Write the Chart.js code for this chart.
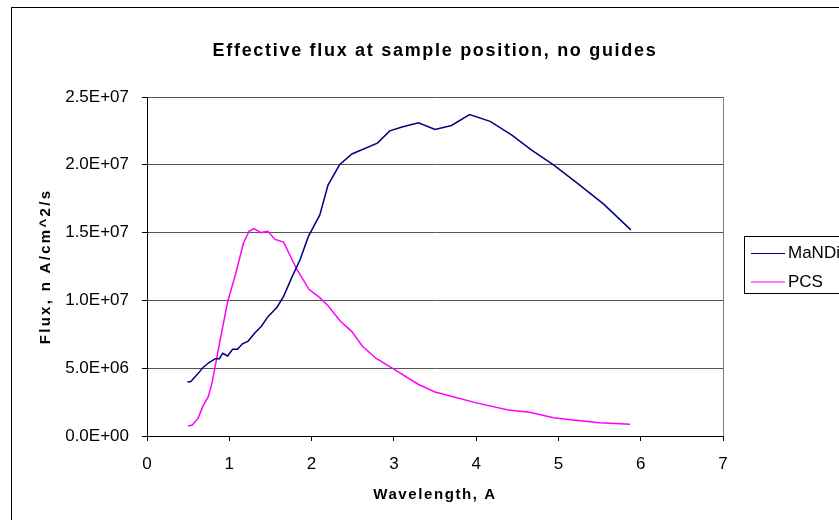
<!DOCTYPE html>
<html>
<head>
<meta charset="utf-8">
<title>Effective flux at sample position</title>
<script src="https://cdn.jsdelivr.net/npm/chart.js@4.4.1/dist/chart.umd.min.js"></script>
<style>
  html, body { margin: 0; padding: 0; background: #fff; }
  canvas { display: block; }
</style>
</head>
<body>
<canvas id="fluxChart" width="839" height="520"></canvas>
<script>
// wavelength in A, flux in n A/cm^2/s
const mandiWavelength = [0.49, 0.53, 0.62, 0.68, 0.75, 0.83, 0.88, 0.92, 0.98, 1.04, 1.10, 1.16, 1.23, 1.31, 1.39, 1.47, 1.58, 1.66, 1.76, 1.86, 1.96, 2.10, 2.20, 2.34, 2.49, 2.80, 2.95, 3.11, 3.30, 3.50, 3.70, 3.92, 4.17, 4.43, 4.67, 4.94, 5.24, 5.55, 5.88];
const mandiFlux = [4.0e6, 4.0e6, 4.6e6, 5.05e6, 5.4e6, 5.7e6, 5.7e6, 6.1e6, 5.9e6, 6.4e6, 6.4e6, 6.8e6, 7.0e6, 7.6e6, 8.1e6, 8.8e6, 9.5e6, 1.03e7, 1.17e7, 1.30e7, 1.47e7, 1.63e7, 1.85e7, 2.00e7, 2.08e7, 2.16e7, 2.25e7, 2.28e7, 2.31e7, 2.26e7, 2.29e7, 2.37e7, 2.32e7, 2.22e7, 2.11e7, 2.00e7, 1.86e7, 1.71e7, 1.52e7];

const pcsWavelength = [0.50, 0.55, 0.62, 0.68, 0.745, 0.79, 0.89, 0.98, 1.08, 1.17, 1.24, 1.30, 1.385, 1.47, 1.555, 1.66, 1.82, 1.97, 2.10, 2.20, 2.345, 2.49, 2.62, 2.79, 2.98, 3.30, 3.50, 3.72, 3.99, 4.39, 4.65, 4.94, 5.18, 5.50, 5.87];
const pcsFlux = [0.74e6, 0.81e6, 1.3e6, 2.2e6, 2.9e6, 3.9e6, 7.1e6, 9.9e6, 1.20e7, 1.42e7, 1.51e7, 1.53e7, 1.50e7, 1.51e7, 1.45e7, 1.43e7, 1.23e7, 1.08e7, 1.02e7, 9.6e6, 8.5e6, 7.7e6, 6.6e6, 5.7e6, 5.0e6, 3.8e6, 3.25e6, 2.9e6, 2.46e6, 1.92e6, 1.75e6, 1.35e6, 1.18e6, 0.98e6, 0.86e6];

const seriesNames = ['MaNDi', 'PCS'];
const seriesColors = ['#000080', '#ff00ff'];

const xTickValues = [0, 1, 2, 3, 4, 5, 6, 7];
const yTickValues = [0, 5e6, 1e7, 1.5e7, 2e7, 2.5e7];

const FONT = '"Liberation Sans", Arial, sans-serif';

// 2.5E+07 style labels
function sci(v) {
  const [m, e] = Number(v).toExponential(1).split('e');
  const exp = parseInt(e, 10);
  return m + 'E' + (exp < 0 ? '-' : '+') + String(Math.abs(exp)).padStart(2, '0');
}

function toPoints(xs, ys) {
  return xs.map((x, i) => ({ x: x, y: ys[i] }));
}

// run one draw method of a chart part with its own letter spacing
function withSpacing(obj, name, px) {
  if (!obj || obj['_spaced_' + name]) return;
  const orig = obj[name];
  obj[name] = function (...args) {
    const c = this.ctx;
    const prev = c.letterSpacing;
    c.letterSpacing = px;
    orig.apply(this, args);
    c.letterSpacing = prev;
  };
  obj['_spaced_' + name] = true;
}

// the bold titles are set wide
const textSpacing = {
  id: 'textSpacing',
  afterLayout(chart) {
    withSpacing(chart.titleBlock, 'draw', '1.7px');
    withSpacing(chart.scales.x, 'drawTitle', '1.6px');
    withSpacing(chart.scales.y, 'drawTitle', '2.3px');
  }
};

// frame round the whole chart
const frame = {
  id: 'frame',
  beforeDraw(chart) {
    const ctx = chart.ctx;
    ctx.save();
    ctx.strokeStyle = '#000';
    ctx.lineWidth = 1;
    ctx.strokeRect(11.5, 7.5, 1000, 1000);
    ctx.restore();
  }
};

// boxed legend on the right, cut by the edge
const boxLegend = {
  id: 'boxLegend',
  afterDraw(chart) {
    const ctx = chart.ctx;
    ctx.save();
    ctx.strokeStyle = '#000';
    ctx.lineWidth = 1;
    ctx.strokeRect(744.5, 236.5, 140, 57);
    ctx.font = '17px ' + FONT;
    ctx.textBaseline = 'middle';
    chart.data.datasets.forEach((ds, i) => {
      const y = 253.5 + i * 28.5;
      ctx.strokeStyle = ds.borderColor;
      ctx.beginPath();
      ctx.moveTo(751, y);
      ctx.lineTo(785, y);
      ctx.stroke();
      ctx.fillStyle = '#000';
      ctx.fillText(ds.label, 788, y);
    });
    ctx.restore();
  }
};

const ctx = document.getElementById('fluxChart').getContext('2d');
new Chart(ctx, {
  type: 'line',
  data: {
    datasets: [
      {
        label: seriesNames[0],
        data: toPoints(mandiWavelength, mandiFlux),
        borderColor: seriesColors[0],
        borderWidth: 1.5,
        pointRadius: 0,
        tension: 0,
        fill: false
      },
      {
        label: seriesNames[1],
        data: toPoints(pcsWavelength, pcsFlux),
        borderColor: seriesColors[1],
        borderWidth: 1.5,
        pointRadius: 0,
        tension: 0,
        fill: false
      }
    ]
  },
  options: {
    responsive: false,
    animation: false,
    layout: { padding: { top: 0, right: 116, bottom: 0, left: 0 } },
    plugins: {
      legend: { display: false },
      tooltip: { enabled: false },
      title: {
        display: true,
        text: 'Effective flux at sample position, no guides',
        color: '#000',
        font: { family: FONT, size: 18, weight: 'bold' },
        padding: { top: 40, bottom: 35.4 },
        fullSize: false
      }
    },
    scales: {
      x: {
        type: 'linear',
        min: 0,
        max: 7,
        afterBuildTicks: scale => { scale.ticks = xTickValues.map(v => ({ value: v })); },
        afterFit: scale => { scale.height = 84; },
        ticks: { color: '#000', padding: 13, font: { family: FONT, size: 17 } },
        grid: {
          color: c => (c.tick && c.tick.value === 7 ? '#808080' : 'rgba(0,0,0,0)'),
          tickColor: '#000',
          tickLength: 5
        },
        border: { color: '#000', width: 1 },
        title: {
          display: true,
          text: 'Wavelength, A',
          color: '#000',
          font: { family: FONT, size: 15, weight: 'bold' },
          padding: { top: 0, bottom: 16 }
        }
      },
      y: {
        min: 0,
        max: 2.5e7,
        afterBuildTicks: scale => { scale.ticks = yTickValues.map(v => ({ value: v })); },
        afterFit: scale => { scale.width = 147; },
        ticks: { color: '#000', padding: 13, font: { family: FONT, size: 17 }, callback: v => sci(v) },
        grid: { color: '#555', tickColor: '#000', tickLength: 5 },
        border: { color: '#000', width: 1 },
        title: {
          display: true,
          text: 'Flux, n A/cm^2/s',
          color: '#000',
          font: { family: FONT, size: 15, weight: 'bold' },
          padding: { top: 37, bottom: 0 }
        }
      }
    }
  },
  plugins: [textSpacing, frame, boxLegend]
});
</script>
</body>
</html>
